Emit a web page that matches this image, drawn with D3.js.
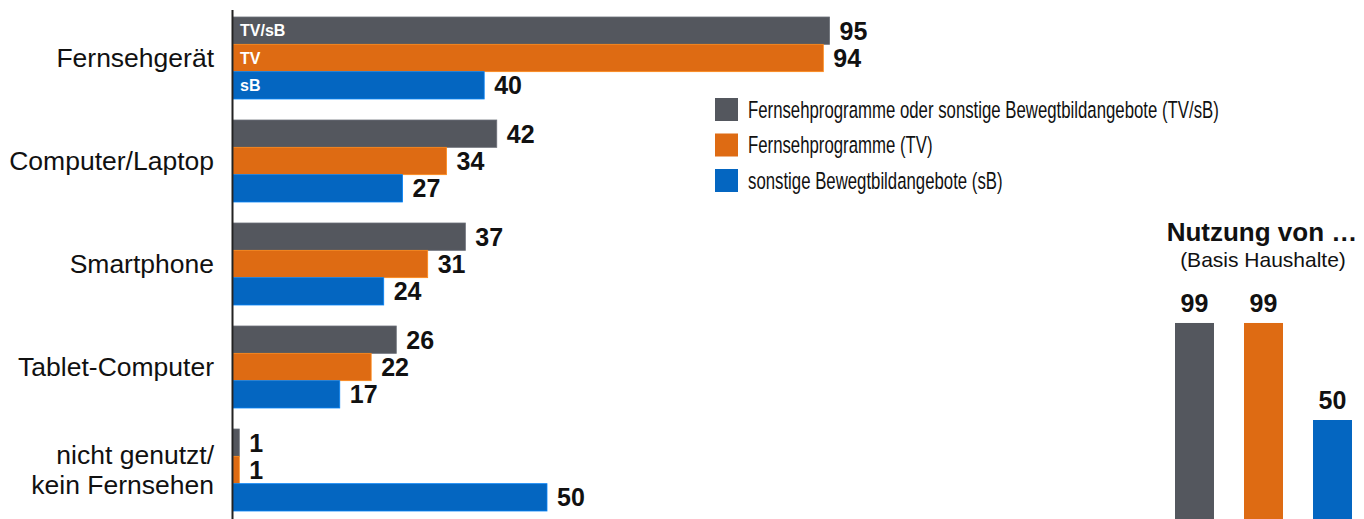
<!DOCTYPE html>
<html>
<head>
<meta charset="utf-8">
<script src="https://cdn.jsdelivr.net/npm/d3@7"></script>
<style>
  body { margin: 0; background: #fff; }
  text { font-family: "Liberation Sans", Arial, sans-serif; }
</style>
</head>
<body>
<script>
// data
const categories = ["Fernsehgerät", "Computer/Laptop", "Smartphone", "Tablet-Computer", "nicht genutzt/\nkein Fernsehen"];
const seriesKeys = ["TV/sB", "TV", "sB"];
const seriesNames = [
  "Fernsehprogramme oder sonstige Bewegtbildangebote (TV/sB)",
  "Fernsehprogramme (TV)",
  "sonstige Bewegtbildangebote (sB)"
];
const valuesTVsB = [95, 42, 37, 26, 1];
const valuesTV = [94, 34, 31, 22, 1];
const valuesSB = [40, 27, 24, 17, 50];
const totals = [99, 99, 50];
const colors = ["#54575e", "#de6b13", "#0466c1"];
const totalTitle = "Nutzung von …";
const totalSubtitle = "(Basis Haushalte)";

const W = 1364, H = 519;
const svg = d3.select("body").append("svg")
  .attr("width", W).attr("height", H);

const seriesValues = [valuesTVsB, valuesTV, valuesSB];
const rows = categories.map((c, i) => ({
  cat: c,
  vals: seriesKeys.map((k, j) => ({ key: k, j: j, v: seriesValues[j][i] }))
}));

// scales
const x = d3.scaleLinear().domain([0, 100]).range([233, 233 + 628]);
const y0 = d3.scaleBand().domain(categories).range([17, 511]).paddingInner(0.204);
const y1 = d3.scaleBand().domain(seriesKeys).range([0, y0.bandwidth()]);

const groups = svg.append("g").selectAll("g")
  .data(rows).join("g")
  .attr("transform", d => `translate(0,${y0(d.cat)})`);

groups.selectAll("rect")
  .data(d => d.vals).join("rect")
  .attr("x", x(0))
  .attr("y", d => y1(d.key))
  .attr("width", d => x(d.v) - x(0))
  .attr("height", y1.bandwidth())
  .attr("fill", d => colors[d.j])
  .attr("stroke", d => d3.color(colors[d.j]).brighter(0.7))
  .attr("stroke-width", 0.8);

groups.selectAll("text.val")
  .data(d => d.vals).join("text")
  .attr("class", "val")
  .attr("x", d => x(d.v) + 10)
  .attr("y", d => y1(d.key) + y1.bandwidth() / 2)
  .attr("dy", "0.36em")
  .attr("font-size", 25)
  .attr("font-weight", "bold")
  .attr("fill", "#111")
  .text(d => d.v);

// labels inside first group's bars
svg.append("g").selectAll("text")
  .data(seriesKeys).join("text")
  .attr("x", x(0) + 7)
  .attr("y", d => y0(categories[0]) + y1(d) + y1.bandwidth() / 2)
  .attr("dy", "0.36em")
  .attr("font-size", 16)
  .attr("font-weight", "bold")
  .attr("fill", "#fff")
  .text(d => d);

// category labels
const catLabels = svg.append("g").selectAll("text")
  .data(categories).join("text")
  .attr("text-anchor", "end")
  .attr("font-size", 26.5)
  .attr("fill", "#111");
catLabels.each(function(d) {
  const lines = d.split("\n");
  const cy = y0(d) + y0.bandwidth() / 2;
  const lh = 30;
  d3.select(this).selectAll("tspan")
    .data(lines).join("tspan")
    .attr("x", 214)
    .attr("y", (l, i) => cy + (i - (lines.length - 1) / 2) * lh)
    .attr("dy", "0.34em")
    .text(l => l);
});

// axis line
svg.append("line")
  .attr("x1", 232.5).attr("x2", 232.5)
  .attr("y1", 10).attr("y2", H)
  .attr("stroke", "#222").attr("stroke-width", 2);

// legend
const legend = svg.append("g").selectAll("g")
  .data(seriesNames).join("g")
  .attr("transform", (d, i) => `translate(715,${98 + i * 35.5})`);
legend.append("rect")
  .attr("width", 23).attr("height", 23)
  .attr("fill", (d, i) => colors[i]);
legend.append("text")
  .attr("transform", "translate(33,19.5) scale(0.72,1)")
  .attr("font-size", 23.3)
  .attr("fill", "#111")
  .text(d => d);

// right chart: Nutzung von …
const xr = d3.scaleBand().domain(seriesKeys).range([1175, 1352]).paddingInner(0.435);
const yr = d3.scaleLinear().domain([0, 100]).range([H, H - 198]);

svg.append("text")
  .attr("x", 1262).attr("y", 241)
  .attr("text-anchor", "middle")
  .attr("font-size", 26).attr("font-weight", "bold")
  .attr("fill", "#111")
  .text(totalTitle);
svg.append("text")
  .attr("x", 1263).attr("y", 267)
  .attr("text-anchor", "middle")
  .attr("font-size", 21)
  .attr("fill", "#111")
  .text(totalSubtitle);

const tot = svg.append("g").selectAll("g")
  .data(totals).join("g");
tot.append("rect")
  .attr("x", (d, i) => xr(seriesKeys[i]))
  .attr("y", d => yr(d))
  .attr("width", xr.bandwidth())
  .attr("height", d => yr(0) - yr(d))
  .attr("fill", (d, i) => colors[i]);
tot.append("text")
  .attr("x", (d, i) => xr(seriesKeys[i]) + xr.bandwidth() / 2)
  .attr("y", d => yr(d) - 11)
  .attr("text-anchor", "middle")
  .attr("font-size", 25).attr("font-weight", "bold")
  .attr("fill", "#111")
  .text(d => d);
</script>
</body>
</html>
